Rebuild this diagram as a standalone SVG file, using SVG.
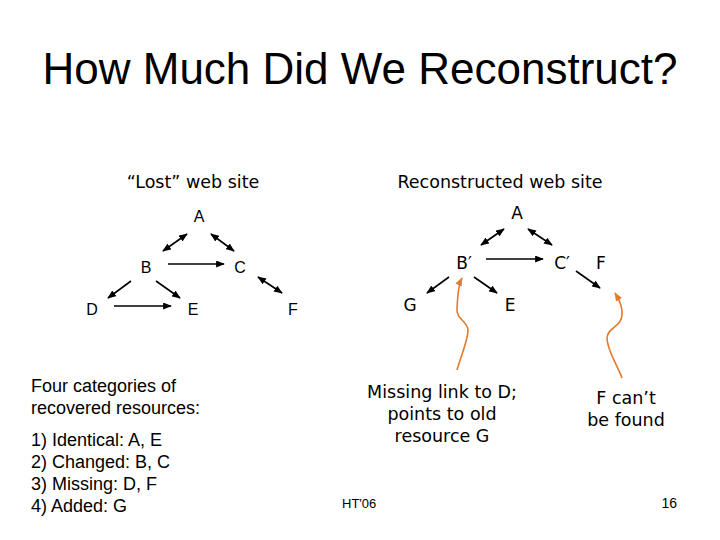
<svg xmlns="http://www.w3.org/2000/svg" width="720" height="540" viewBox="0 0 720 540">
<defs>
<style>
.ar{font-family:"Liberation Sans",Arial,sans-serif;fill:#000}
.vd{font-family:"DejaVu Sans",Verdana,sans-serif;fill:#000}
.n{font-size:16px;text-anchor:middle}
.vn{font-size:17px;text-anchor:middle}
.e{stroke:#000;stroke-width:1.6;fill:none;marker-end:url(#ah)}
.d{stroke:#000;stroke-width:1.6;fill:none;marker-end:url(#ah);marker-start:url(#ah)}
.o{stroke:#E47A2C;stroke-width:1.6;fill:none;marker-end:url(#oh)}
</style>
<marker id="ah" viewBox="0 0 10 8" refX="9" refY="4" markerWidth="9" markerHeight="7" markerUnits="userSpaceOnUse" orient="auto-start-reverse"><path d="M0,0 L10,4 L0,8 Z" fill="#000"/></marker>
<marker id="oh" viewBox="0 0 10 8" refX="9" refY="4" markerWidth="9" markerHeight="7" markerUnits="userSpaceOnUse" orient="auto"><path d="M0,0 L10,4 L0,8 Z" fill="#E47A2C"/></marker>
</defs>
<rect width="720" height="540" fill="#fff"/>
<text class="ar" x="360" y="84" font-size="44" text-anchor="middle">How Much Did We Reconstruct?</text>
<text class="vd" x="193" y="188" font-size="17.5" text-anchor="middle">“Lost” web site</text>
<text class="vd" x="500" y="188" font-size="17.5" text-anchor="middle">Reconstructed web site</text>
<g id="L-A"><text class="ar n" x="199" y="222">A</text></g>
<g id="L-B"><text class="ar n" x="146" y="273">B</text></g>
<g id="L-C"><text class="ar n" x="240" y="273">C</text></g>
<g id="L-D"><text class="ar n" x="92" y="315">D</text></g>
<g id="L-E"><text class="ar n" x="193" y="315">E</text></g>
<g id="L-F"><text class="ar n" x="293" y="315">F</text></g>
<g id="R-A"><text class="vd vn" x="517" y="219">A</text></g>
<g id="R-B"><text class="vd vn" x="464" y="269">B′</text></g>
<g id="R-C"><text class="vd vn" x="562" y="269">C′</text></g>
<g id="R-F"><text class="vd vn" x="601" y="269">F</text></g>
<g id="R-G"><text class="vd vn" x="410" y="311">G</text></g>
<g id="R-E"><text class="vd vn" x="510" y="311">E</text></g>
<g id="connectors">
<line class="d" x1="163" y1="251" x2="187" y2="234"/>
<line class="d" x1="211" y1="234" x2="234" y2="251"/>
<line class="e" x1="168" y1="264" x2="224" y2="264"/>
<line class="e" x1="131" y1="281" x2="108" y2="298"/>
<line class="e" x1="156" y1="281" x2="180" y2="298"/>
<line class="e" x1="114" y1="306" x2="171" y2="306"/>
<line class="d" x1="258" y1="277" x2="282" y2="293"/>
<line class="d" x1="481" y1="245" x2="504" y2="229"/>
<line class="d" x1="528" y1="229" x2="552" y2="245"/>
<line class="e" x1="486" y1="259" x2="543" y2="259"/>
<line class="e" x1="449" y1="277" x2="427" y2="293"/>
<line class="e" x1="474" y1="277" x2="497" y2="293"/>
<line class="e" x1="576" y1="271" x2="600" y2="288"/>
<path class="o" d="M457,370 C461,356 468,340 468,330 C467,320 456,320 457,308 C458,298 457,288 462,278"/>
<path class="o" d="M622,378 C616,362 607,350 607,338 C607,328 622,326 622,315 C623,305 618,298 615,293"/>
</g>
<g id="notes">
<text class="vd" font-size="17.5" text-anchor="middle"><tspan x="442" y="398">Missing link to D;</tspan><tspan x="442" y="420">points to old</tspan><tspan x="442" y="442">resource G</tspan></text>
<text class="vd" font-size="17.5" text-anchor="middle"><tspan x="626" y="404">F can’t</tspan><tspan x="626" y="426">be found</tspan></text>
<text class="ar" font-size="18"><tspan x="31" y="392">Four categories of</tspan><tspan x="31" y="414">recovered resources:</tspan><tspan x="31" y="446">1) Identical: A, E</tspan><tspan x="31" y="468">2) Changed: B, C</tspan><tspan x="31" y="490">3) Missing: D, F</tspan><tspan x="31" y="512">4) Added: G</tspan></text>
<text class="ar" x="342" y="508" font-size="13">HT'06</text>
<text class="ar" x="677" y="508" font-size="14" text-anchor="end">16</text>
</g>
</svg>
